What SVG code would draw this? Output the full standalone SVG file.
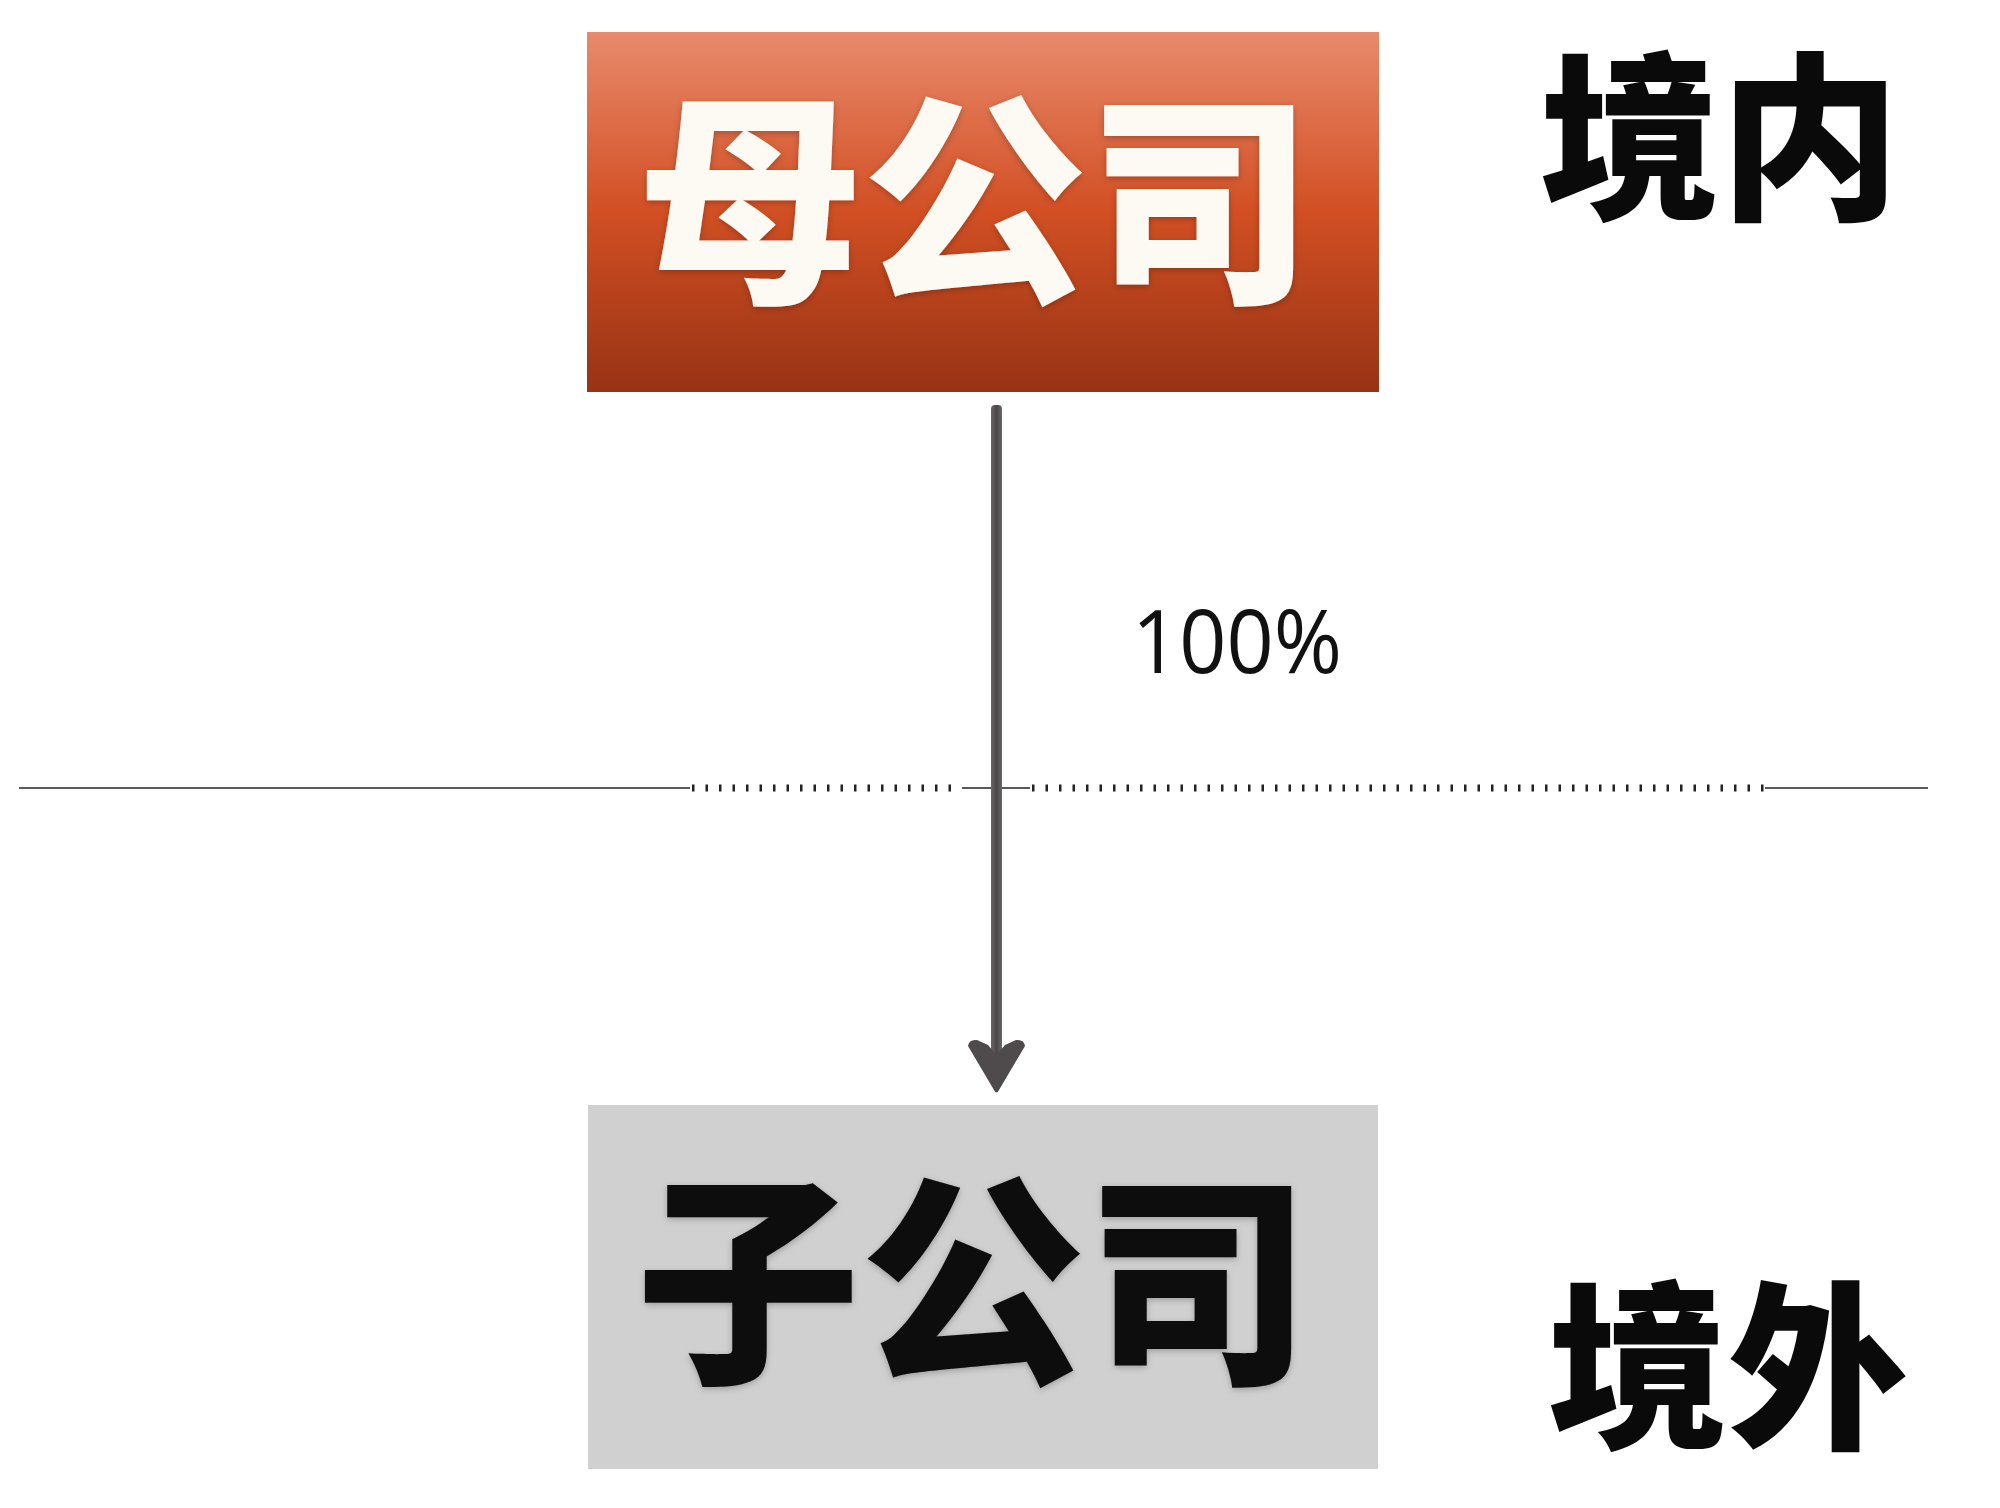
<svg xmlns="http://www.w3.org/2000/svg" width="2000" height="1508" viewBox="0 0 2000 1508">
  <defs>
    <linearGradient id="gParent" x1="0" y1="0" x2="0" y2="1">
      <stop offset="0" stop-color="#e88a6c"/>
      <stop offset="0.5" stop-color="#d24f23"/>
      <stop offset="1" stop-color="#973314"/>
    </linearGradient>
    <linearGradient id="gShaft" x1="0" y1="0" x2="1" y2="0">
      <stop offset="0" stop-color="#6b6668"/>
      <stop offset="0.5" stop-color="#4a4548"/>
      <stop offset="1" stop-color="#6b6668"/>
    </linearGradient>
    <filter id="soft" x="-10%" y="-10%" width="120%" height="120%">
      <feDropShadow dx="0" dy="2" stdDeviation="3" flood-color="#000" flood-opacity="0.25"/>
    </filter>
  </defs>
  <style>
    .cjk { font-family: "Noto Sans CJK SC", "Noto Sans CJK TC", sans-serif; font-weight: 900; text-anchor: middle; }
    .big { font-size: 225px; }
    .side { font-size: 180px; fill: #0a0a0a; }
    .sep { stroke: #222; stroke-width: 1.6; fill: none; }
    .ticks { stroke: #222; stroke-width: 7; stroke-dasharray: 2.5 11; fill: none; }
    .pct { font-family: "Open Sans", "Liberation Sans", sans-serif; font-size: 88px; fill: #111; }
  </style>

  <rect width="2000" height="1508" fill="#ffffff"/>

  <!-- border separator -->
  <g id="border">
    <line class="sep" x1="19" y1="788" x2="690" y2="788"/>
    <line class="ticks" x1="692" y1="788" x2="962" y2="788"/>
    <line class="sep" x1="962" y1="788" x2="1030" y2="788"/>
    <line class="ticks" x1="1032" y1="788" x2="1765" y2="788"/>
    <line class="sep" x1="1765" y1="788" x2="1928" y2="788"/>
  </g>

  <!-- connectors -->
  <g id="connectors">
    <rect x="991" y="405" width="11" height="652" fill="url(#gShaft)" rx="4"/>
    <path d="M968,1046 Q969,1039 977,1040 L988,1045 L996.5,1055 L1005,1045 L1016,1040 Q1024,1039 1025,1046 L999,1090 Q996.5,1095 994,1090 Z" fill="#4f4a4c"/>
    <text id="label-100" class="pct" x="1132" y="673" textLength="210" lengthAdjust="spacingAndGlyphs">100%</text>
  </g>

  <!-- parent company -->
  <g id="node-parent">
    <rect x="587" y="32" width="792" height="360" fill="url(#gParent)"/>
    <text class="cjk big" x="975" y="285" fill="#fdfaf4" filter="url(#soft)">母公司</text>
  </g>

  <!-- subsidiary -->
  <g id="node-sub">
    <rect x="588" y="1105" width="790" height="364" fill="#d0d0d0"/>
    <text class="cjk big" x="973" y="1366" fill="#0a0a0a" filter="url(#soft)">子公司</text>
  </g>

  <g id="label-domestic">
    <text class="cjk side" x="1720" y="205">境内</text>
  </g>
  <g id="label-overseas">
    <text class="cjk side" x="1728" y="1434">境外</text>
  </g>
</svg>
